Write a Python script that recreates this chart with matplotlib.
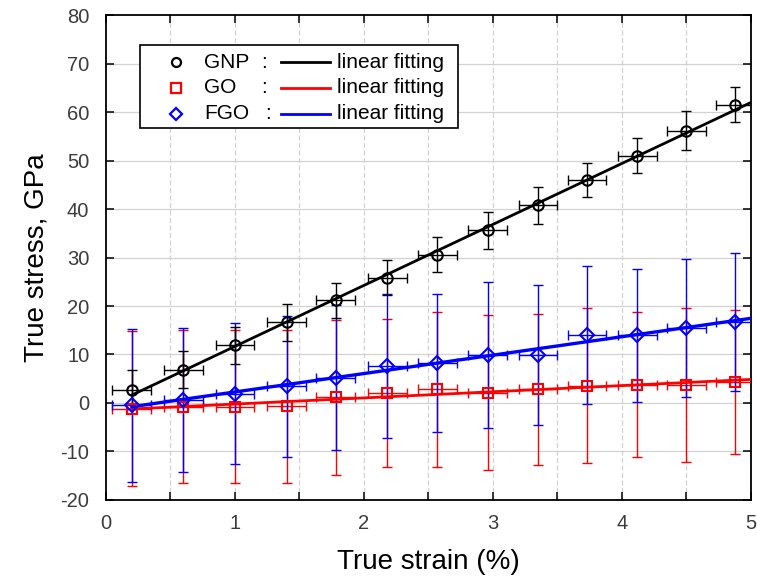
import numpy as np
import matplotlib
matplotlib.use("Agg")
import matplotlib.pyplot as plt
from matplotlib.patches import Rectangle

plt.rcParams['font.family'] = ['Liberation Sans', 'DejaVu Sans']
plt.rcParams['axes.unicode_minus'] = False

# strain (%) positions
strain = [0.2, 0.6, 1.0, 1.4, 1.78, 2.18, 2.57, 2.96, 3.35, 3.73, 4.12, 4.5, 4.88]
strain_err = [0.15] * 13

gnp = [2.7, 6.9, 11.9, 16.6, 21.2, 25.8, 30.6, 35.6, 40.8, 46.0, 51.0, 56.2, 61.5]
gnp_err = [4.0, 3.8, 3.8, 3.8, 3.6, 3.6, 3.6, 3.8, 3.8, 3.6, 3.6, 4.0, 3.6]

go = [-1.2, -0.8, -0.8, -0.7, 1.2, 2.0, 2.8, 2.1, 2.8, 3.6, 3.8, 3.7, 4.3]
go_err = [16.0, 15.8, 15.8, 15.8, 16.0, 15.3, 16.0, 16.0, 15.5, 16.0, 15.0, 15.9, 14.8]

fgo = [-0.5, 0.6, 1.9, 3.4, 5.2, 7.6, 8.3, 9.9, 9.9, 14.0, 14.0, 15.5, 16.7]
fgo_err = [15.8, 14.8, 14.5, 14.5, 15.0, 14.8, 14.2, 15.0, 14.5, 14.3, 13.7, 14.3, 14.2]

names = ['GNP', 'GO', 'FGO']
colors = ['black', 'red', 'blue']
markers = ['o', 's', 'D']

fig = plt.figure(figsize=(7.57, 5.84), dpi=100)
ax = fig.add_axes([0.140, 0.144, 0.852, 0.830])

xs = np.array(strain)
xfit = np.array([xs[0], 5.0])

for y, e, col, mk, ms, lw in [(go, go_err, 'red', 's', 7.5, 2.0),
                              (fgo, fgo_err, 'blue', 'D', 7.5, 2.4),
                              (gnp, gnp_err, 'black', 'o', 7.5, 2.0)]:
    ax.errorbar(strain, y, yerr=e, xerr=strain_err, fmt='none', ecolor=col,
                elinewidth=1.0, capsize=3.5, capthick=1.0, zorder=3)
    p = np.polyfit(xs, y, 1)
    ax.plot(xfit, np.polyval(p, xfit), color=col, lw=lw, zorder=4)
    ax.plot(strain, y, linestyle='none', marker=mk, ms=ms, mfc='none',
            mec=col, mew=1.5, zorder=5)

ax.set_xlim(0, 5)
ax.set_ylim(-20, 80)
ax.set_xticks(np.arange(0, 5.01, 1))
ax.set_xticks(np.arange(0, 5.01, 0.5), minor=True)
ax.set_yticks(np.arange(-20, 81, 10))
ax.tick_params(which='both', direction='in', top=True, right=True,
               labelsize=14.5, labelcolor='#3c3c3c', length=6, width=1.1)
ax.tick_params(axis='x', pad=10)
ax.tick_params(axis='y', pad=12)

for xv in np.arange(0.5, 5, 0.5):
    ax.axvline(xv, color='#d2d2d2', lw=0.9, ls=(0, (4, 2)), zorder=1)
for yv in np.arange(-10, 80, 10):
    ax.axhline(yv, color='#d2d2d2', lw=0.9, zorder=1)

for s in ax.spines.values():
    s.set_linewidth(1.3)

ax.set_xlabel('True strain (%)', fontsize=20, labelpad=12)
ax.set_ylabel('True stress, GPa', fontsize=20, labelpad=8)

# legend box drawn by hand: marker, name, colon, line, text
ax.add_patch(Rectangle((0.0527, 0.767), 0.493, 0.171, transform=ax.transAxes,
                       facecolor='white', edgecolor='black', lw=1.2, zorder=10))
rows = [0.903, 0.850, 0.797]
colon_x = [0.241, 0.241, 0.247]
lgd_ms = [6.5, 7, 6.5]
for i in range(3):
    yr = rows[i]
    ax.plot([0.109], [yr], marker=markers[i], ms=lgd_ms[i], mfc='none', mec=colors[i],
            mew=1.6, transform=ax.transAxes, zorder=11, clip_on=False)
    ax.text(0.152, yr, names[i], fontsize=15, va='center', ha='left',
            transform=ax.transAxes, zorder=11)
    ax.text(colon_x[i], yr, ':', fontsize=15, va='center', ha='left',
            transform=ax.transAxes, zorder=11)
    ax.plot([0.271, 0.348], [yr, yr], color=colors[i], lw=2.0,
            transform=ax.transAxes, zorder=11, clip_on=False)
    ax.text(0.358, yr, 'linear fitting', fontsize=15, va='center', ha='left',
            transform=ax.transAxes, zorder=11)

fig.savefig('out.png', dpi=100)
